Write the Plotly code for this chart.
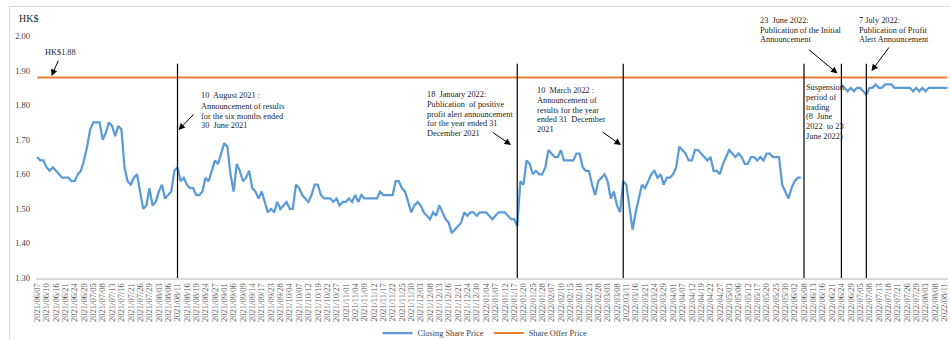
import pandas as pd
import plotly.graph_objects as go

# ---------------- data ----------------
start_date = "2021-06-07"
end_date = "2022-08-12"
market_holidays = ["2021-06-14", "2021-07-01", "2021-09-22", "2021-10-01", "2021-10-13",
                   "2021-10-14", "2021-12-27", "2022-02-01", "2022-02-02", "2022-02-03",
                   "2022-04-05", "2022-04-15", "2022-04-18", "2022-05-02", "2022-05-09",
                   "2022-06-03", "2022-07-01"]
trading_days = pd.bdate_range(start_date, end_date, freq="C", holidays=market_holidays)
categories = [d.strftime("%Y/%m/%d") for d in trading_days]
tick_labels = categories[::3]

N = None  # trading suspended
closing_price = [
    1.65, 1.64, 1.64, 1.62, 1.61, 1.62, 1.61, 1.60, 1.59, 1.59,
    1.59, 1.58, 1.58, 1.60, 1.61, 1.64, 1.68, 1.73, 1.75, 1.75,
    1.75, 1.70, 1.72, 1.75, 1.74, 1.71, 1.74, 1.73, 1.62, 1.58,
    1.57, 1.59, 1.60, 1.55, 1.50, 1.51, 1.56, 1.51, 1.52, 1.55,
    1.57, 1.53, 1.54, 1.55, 1.61, 1.62, 1.58, 1.59, 1.57, 1.56,
    1.56, 1.54, 1.54, 1.55, 1.59, 1.58, 1.61, 1.64, 1.63, 1.66,
    1.69, 1.68, 1.60, 1.55, 1.63, 1.61, 1.58, 1.59, 1.61, 1.56,
    1.55, 1.53, 1.55, 1.52, 1.49, 1.50, 1.49, 1.52, 1.50, 1.51,
    1.52, 1.50, 1.50, 1.57, 1.56, 1.54, 1.53, 1.52, 1.54, 1.57,
    1.57, 1.54, 1.53, 1.53, 1.53, 1.52, 1.53, 1.51, 1.52, 1.52,
    1.53, 1.52, 1.54, 1.52, 1.54, 1.53, 1.53, 1.53, 1.53, 1.53,
    1.55, 1.54, 1.54, 1.54, 1.54, 1.58, 1.58, 1.56, 1.55, 1.52,
    1.49, 1.51, 1.52, 1.51, 1.49, 1.48, 1.47, 1.49, 1.48, 1.51,
    1.49, 1.47, 1.46, 1.43, 1.44, 1.45, 1.46, 1.49, 1.48, 1.49,
    1.49, 1.48, 1.49, 1.49, 1.49, 1.48, 1.47, 1.48, 1.49, 1.49,
    1.49, 1.48, 1.47, 1.47, 1.45, 1.58, 1.57, 1.64, 1.63, 1.60,
    1.61, 1.60, 1.60, 1.62, 1.67, 1.66, 1.65, 1.65, 1.67, 1.64,
    1.64, 1.64, 1.64, 1.66, 1.66, 1.62, 1.61, 1.61, 1.57, 1.54,
    1.58, 1.59, 1.60, 1.58, 1.53, 1.55, 1.51, 1.49, 1.58, 1.57,
    1.50, 1.44, 1.49, 1.53, 1.57, 1.56, 1.58, 1.60, 1.61, 1.59,
    1.60, 1.57, 1.59, 1.59, 1.60, 1.62, 1.68, 1.67, 1.66, 1.64,
    1.64, 1.67, 1.67, 1.66, 1.65, 1.64, 1.65, 1.61, 1.61, 1.60,
    1.63, 1.65, 1.67, 1.66, 1.65, 1.66, 1.65, 1.63, 1.63, 1.65,
    1.65, 1.64, 1.65, 1.64, 1.66, 1.66, 1.65, 1.65, 1.65, 1.57,
    1.55, 1.53, 1.56, 1.58, 1.59, 1.59, N, N, N, N,
    N, N, N, N, N, N, N, N, 1.86, 1.85,
    1.84, 1.85, 1.84, 1.85, 1.85, 1.84, 1.83, 1.85, 1.85, 1.86,
    1.85, 1.85, 1.86, 1.86, 1.86, 1.85, 1.85, 1.85, 1.85, 1.85,
    1.85, 1.84, 1.85, 1.84, 1.85, 1.84, 1.85, 1.85, 1.85, 1.85,
    1.85, 1.85, 1.85,
]
offer_price = 1.88
event_dates = ["2021/08/11", "2022/01/18", "2022/03/10", "2022/06/08", "2022/06/24", "2022/07/07"]
event_line_bottom = 1.30
event_line_top = 1.92
y_ticks = [1.30, 1.40, 1.50, 1.60, 1.70, 1.80, 1.90, 2.00]

# ---------------- layout helpers ----------------
W, H = 950, 340
L, T, PW, PH = 36, 36, 912, 242
FONT = "Liberation Serif"
TXT = "#262626"


def fx(px):
    return (px - L) / PW


def fy(py):
    return (T + PH - py) / PH


fig = go.Figure()
fig.add_trace(go.Scatter(
    x=categories, y=closing_price, mode="lines", name="Closing Share Price",
    line=dict(color="#5B9BD5", width=2.25), connectgaps=False))
fig.add_trace(go.Scatter(
    x=categories, y=[offer_price] * len(categories), mode="lines", name="Share Offer Price",
    line=dict(color="#ED7D31", width=2)))

ev_x, ev_y = [], []
for d in event_dates:
    ev_x += [d, d, None]
    ev_y += [event_line_bottom, event_line_top, None]
fig.add_trace(go.Scatter(x=ev_x, y=ev_y, mode="lines", showlegend=False,
                         line=dict(color="#000000", width=1.2), hoverinfo="skip"))

annotations = []


def text_block(x_left, y_centers, lines, size=8.3):
    for yc, ln in zip(y_centers, lines):
        annotations.append(dict(
            text=ln, xref="paper", yref="paper", x=fx(x_left), y=fy(yc),
            xanchor="left", yanchor="middle", showarrow=False,
            font=dict(family=FONT, size=size, color=TXT)))


def arrow(tail, head):
    annotations.append(dict(
        text="", xref="paper", yref="paper", x=fx(head[0]), y=fy(head[1]),
        ax=tail[0] - head[0], ay=tail[1] - head[1], showarrow=True,
        arrowhead=2, arrowsize=1.3, arrowwidth=1, arrowcolor="#000000", standoff=0))


text_block(17, [19], ["HK$"], size=10)
text_block(42.5, [52], ["HK$1.88"])
arrow((59, 59), (51.5, 76))

text_block(199, [95.7, 106, 116, 125.5],
           ["10  August 2021 :", "Announcement of results", "for the six months ended", "30  June 2021"])
arrow((195, 113), (178.5, 130))

text_block(424.5, [94.3, 104.2, 114, 123.7, 133.3],
           ["18  January 2022:", "Publication  of positive", "profit alert announcement",
            "for the year ended 31", "December 2021"])
arrow((491.5, 131.5), (511, 145))

text_block(534.5, [90.5, 100.2, 110, 119.5, 129],
           ["10  March 2022 :", "Announcement of", "results for the year", "ended 31  December", "2021"])
arrow((601, 131), (621, 145))

text_block(803.5, [87.7, 97.5, 107.2, 116.8, 126.6, 136.2],
           ["Suspension", "period of", "trading", "(8  June", "2022  to 23", "June 2022)"])

text_block(757.5, [20, 30.5, 39.5],
           ["23  June 2022:", "Publication of the Initial", "Announcement"])
arrow((807.5, 48.5), (837.5, 73.5))

text_block(857, [20, 30.5, 39.5],
           ["7 July 2022:", "Publication of Profit", "Alert Announcement"])
arrow((890, 46), (871.5, 71))

fig.update_layout(
    width=W, height=H,
    margin=dict(l=L, r=W - L - PW, t=T, b=H - T - PH, autoexpand=False),
    paper_bgcolor="white", plot_bgcolor="white",
    font=dict(family=FONT, size=8.5, color="#404040"),
    showlegend=True,
    legend=dict(orientation="h", x=fx(485), xanchor="center", y=fy(333), yanchor="middle",
                font=dict(family=FONT, size=8.3, color="#404040"),
                bgcolor="rgba(0,0,0,0)", itemwidth=30, tracegroupgap=0),
    annotations=annotations,
    shapes=[dict(type="rect", xref="paper", yref="paper",
                 x0=fx(9.5), y0=fy(6.5), x1=fx(1000), y1=fy(400),
                 line=dict(color="#D9D9D9", width=1), fillcolor="rgba(0,0,0,0)", layer="below")],
)
fig.update_xaxes(
    type="category", categoryorder="array", categoryarray=categories,
    range=[-0.4, len(categories) - 0.8],
    tickmode="array", tickvals=tick_labels, ticktext=tick_labels, tickangle=-90,
    tickfont=dict(family=FONT, size=8.5, color="#595959"),
    showline=True, linecolor="#D9D9D9", linewidth=1.5,
    showgrid=False, zeroline=False, ticks="", automargin=False)
fig.update_yaxes(
    range=[1.30, 2.00], tickmode="array", tickvals=y_ticks,
    ticktext=[f"{v:.2f}" for v in y_ticks],
    tickfont=dict(family=FONT, size=8.5, color="#404040"),
    showline=False, showgrid=False, zeroline=False, ticks="", ticklabelstandoff=5,
    automargin=False)

fig.write_html("out.html")
